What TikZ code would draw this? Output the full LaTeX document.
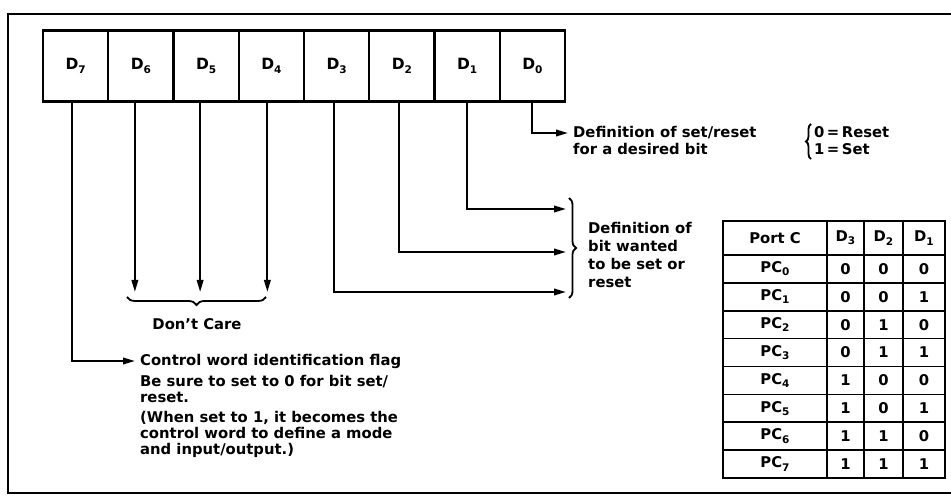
\documentclass[tikz,border=0pt]{standalone}
\usepackage{fontspec}
\setmainfont{DejaVu Sans}
\usetikzlibrary{arrows.meta,decorations.pathreplacing,calc}
\newcommand\lsub[1]{\raisebox{-0.4ex}{\fontsize{10.5}{10.5}\selectfont #1}}
\begin{document}
\begin{tikzpicture}[x=1pt,y=-1pt,
  txt/.style={font=\bfseries\fontsize{14.8}{16}\selectfont, inner sep=0pt, anchor=base west},
  ctxt/.style={font=\bfseries\fontsize{14.8}{16}\selectfont, inner sep=0pt, anchor=center},
  cell/.style={draw, line width=2.2pt, minimum width=65.25pt, minimum height=71pt, inner sep=0pt,
    font=\bfseries\fontsize{15.5}{16}\selectfont},
  conn/.style={line width=2pt},
  arr/.style={conn, -{Triangle[length=12pt,width=6.5pt]}},
  brc/.style={line width=1.8pt, decorate, decoration={brace, amplitude=#1}},
  brc/.default=7pt,
  frm/.style={line width=2.6pt},
  tthick/.style={line width=2.8pt},
  tthin/.style={line width=1.6pt}
]
\useasboundingbox (0,0) rectangle (951,502);
% frame
\draw[frm] (951,14) -- (8,14) -- (8,493) -- (951,493);

% register
\foreach \lab [count=\i from 0] in {7,6,5,4,3,2,1,0}{
  \node[cell] (d\lab) at ({43+65.25*(\i+0.5)},66) {D\lsub{\lab}};
}

% end coordinates
\coordinate (e0) at (568,133);
\coordinate (e1) at (566,209);
\coordinate (e2) at (566,252);
\coordinate (e3) at (566,292);
\coordinate (e4) at ([xshift=-4pt]d4.south |- 0,292);
\coordinate (e5) at ([xshift=-6pt]d5.south |- 0,292);
\coordinate (e6) at ([xshift=-6pt]d6.south |- 0,292);
\coordinate (e7) at (135,361);

\draw[arr] (d0.south) |- (e0);
\draw[arr] (d1.south) |- (e1);
\draw[arr] ([xshift=-3pt]d2.south) |- (e2);
\draw[arr] ([xshift=-3pt]d3.south) |- (e3);
\draw[arr] ([xshift=-4pt]d4.south) -- (e4);
\draw[arr] ([xshift=-6pt]d5.south) -- (e5);
\draw[arr] ([xshift=-6pt]d6.south) -- (e6);
\draw[arr] ([xshift=-4pt]d7.south) |- (e7);

% D0 text
\node[txt] (t0a) at (573,138) {Definition of set/reset};
\node[txt] (t0b) at (573,155) {for a desired bit};
\draw[brc=5pt] (811,159) -- (811,124);
\node[txt] (r0) at (814,138) {0\hspace{2.5pt}=\hspace{2.5pt}Reset};
\node[txt] (r1) at (814,155) {1\hspace{2.5pt}=\hspace{2.5pt}Set};

% D1-D3 text
\draw[brc] (569,198) -- (569,298);
\node[txt] (b1) at (588,234) {Definition of};
\node[txt] (b2) at (588,252) {bit wanted};
\node[txt] (b3) at (588,270) {to be set or};
\node[txt] (b4) at (588,288) {reset};

% don't care
\draw[brc=8pt] (266,297) -- (127,297);
\node[ctxt, anchor=base] (dc) at (197,330) {Don't Care};

% D7 text
\node[txt] (c1) at (140,366) {Control word identification flag};
\node[txt] (c2) at (140,387) {Be sure to set to 0 for bit set/};
\node[txt] (c3) at (140,403) {reset.};
\node[txt] (c4) at (140,423) {(When set to 1, it becomes the};
\node[txt] (c5) at (140,439) {control word to define a mode};
\node[txt] (c6) at (140,455) {and input/output.)};

% table
\foreach \k in {1,...,7}{
  \draw[tthin] (723,{255+27.875*\k}) -- (945,{255+27.875*\k});
}
\draw[tthin] (723,255) -- (945,255);
\foreach \cx in {827,864,903}{
  \draw[tthin] (\cx,221) -- (\cx,478);
}
\draw[tthick] (723,221) rectangle (945,478);
\node[ctxt] (hp) at (775,238) {Port C};
\node[ctxt] (h3) at (845.5,238) {D\lsub{3}};
\node[ctxt] (h2) at (883.5,238) {D\lsub{2}};
\node[ctxt] (h1) at (924,238) {D\lsub{1}};
\foreach \a/\b/\c [count=\k from 0] in {0/0/0,0/0/1,0/1/0,0/1/1,1/0/0,1/0/1,1/1/0,1/1/1}{
  \node[ctxt] (pc\k) at (775,{255+27.875*(\k+0.5)}) {PC\lsub{\k}};
  \node[ctxt] (v3\k) at (845.5,{255+27.875*(\k+0.5)}) {\a};
  \node[ctxt] (v2\k) at (883.5,{255+27.875*(\k+0.5)}) {\b};
  \node[ctxt] (v1\k) at (924,{255+27.875*(\k+0.5)}) {\c};
}
\end{tikzpicture}
\end{document}
